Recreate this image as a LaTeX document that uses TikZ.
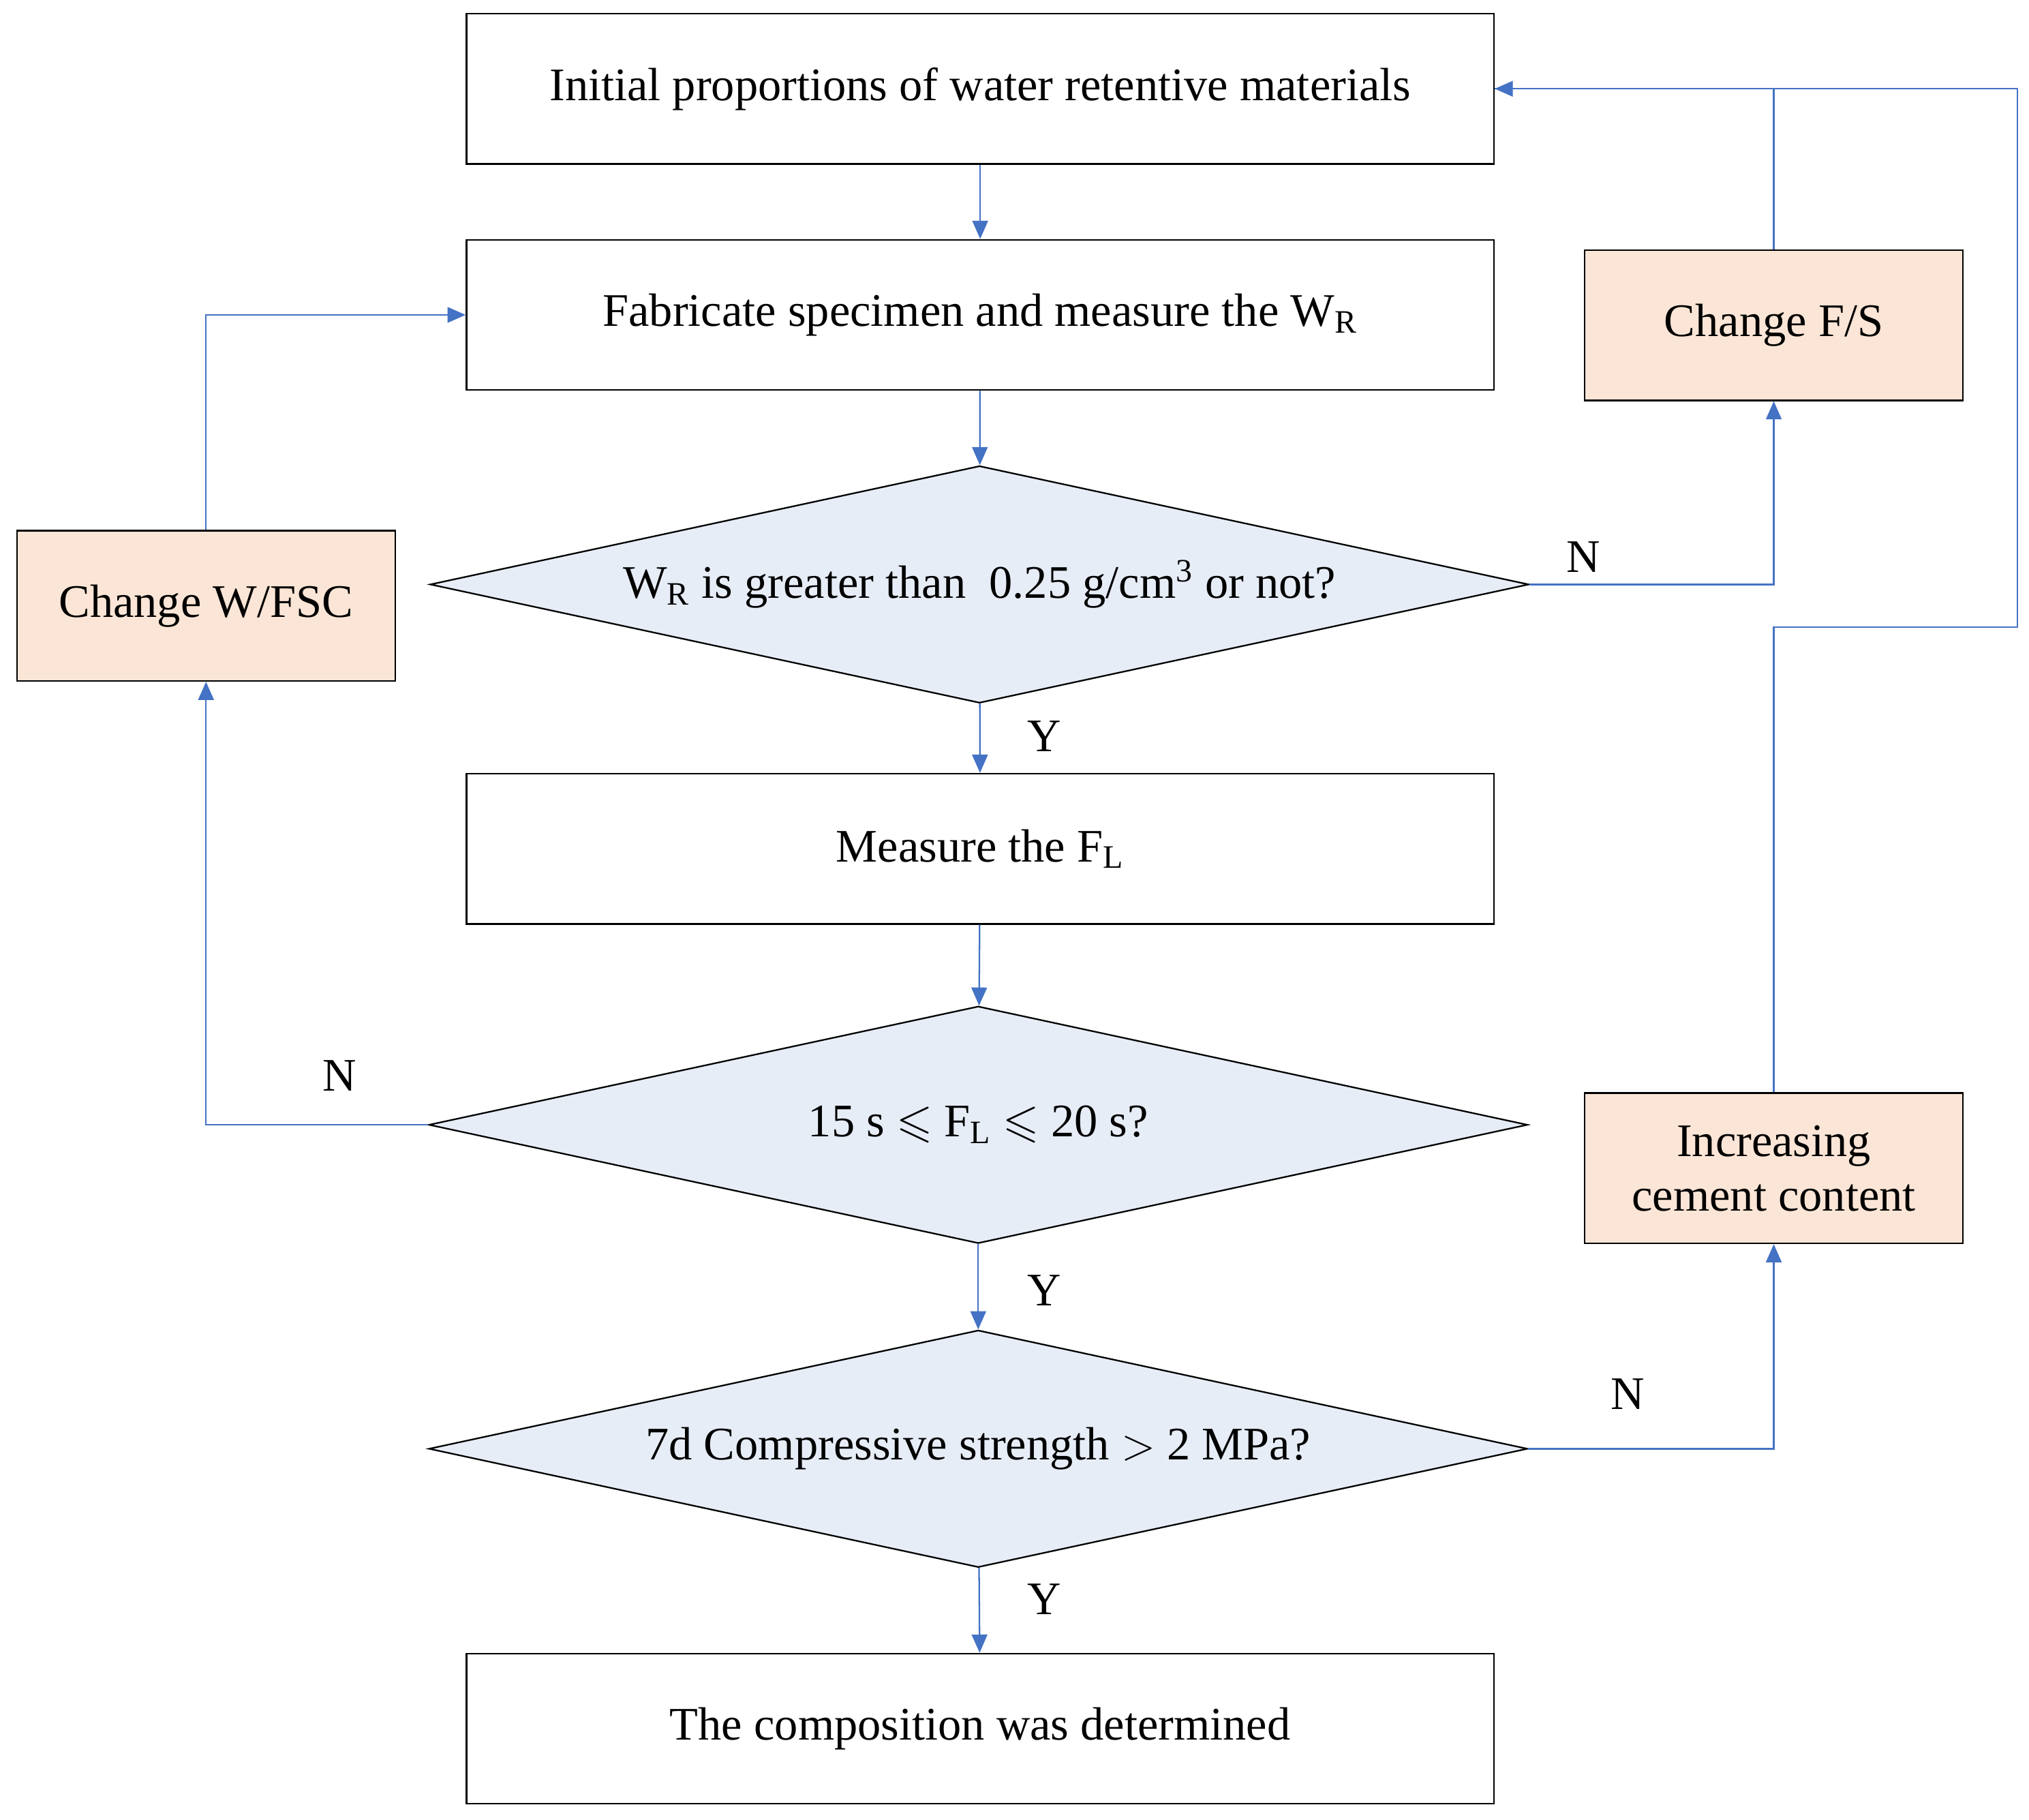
\documentclass[tikz,border=0pt]{standalone}
\usepackage{fontspec}
\usepackage{amssymb}
\setmainfont{Liberation Serif}
\usetikzlibrary{shapes.geometric,arrows.meta}
\definecolor{ln}{HTML}{4472C4}
\definecolor{dfill}{HTML}{E7EDF7}
\definecolor{pfill}{HTML}{FBE5D6}
\begin{document}
\begin{tikzpicture}[x=0.5pt,y=-0.5pt,
  every node/.style={font=\fontsize{18}{21}\selectfont},
  box/.style={draw=black,line width=0.6pt,minimum width=396.5pt,minimum height=58pt,inner sep=0pt},
  side/.style={draw=black,line width=0.6pt,fill=pfill,minimum width=146pt,minimum height=58pt,inner sep=0pt,align=center},
  dia/.style={draw=black,line width=0.6pt,fill=dfill,shape=diamond,minimum width=424pt,minimum height=91.5pt,inner sep=0pt},
  con/.style={draw=ln,line width=0.6pt},
  arr/.style={con,-{Triangle[length=7pt,width=6pt]}},
  lab/.style={font=\fontsize{18}{21}\selectfont}]
\useasboundingbox (0,0) rectangle (1566,1404);
\node[box] (b1) at (756.5,68.5) {Initial proportions of water retentive materials};
\node[box] (b2) at (756.5,243) {Fabricate specimen and measure the W\textsubscript{R}};
\node[dia] (d1) at (756,451) {};
\node at (d1.center) {W\textsubscript{R} is greater than\ \ 0.25 g/cm\textsuperscript{3} or not?};
\node[box] (b3) at (756.5,655) {Measure the F\textsubscript{L}};
\node[dia] (d2) at (755,868) {};
\node at (d2.center) {15 s $\leqslant$ F\textsubscript{L} $\leqslant$ 20 s?};
\node[dia] (d3) at (755,1118) {};
\node at (d3.center) {7d Compressive strength $>$ 2 MPa?};
\node[box] (b4) at (756.5,1334) {The composition was determined};
\node[side] (w) at (159,467.5) {Change W/FSC};
\node[side] (fs) at (1369,251) {Change F/S};
\node[side] (ic) at (1369,901.5) {Increasing\\cement content};
\coordinate (c1) at (1557,484);
\draw[arr] (b1) -- (b2);
\draw[arr] (b2) -- (d1);
\draw[arr] (d1) -- (b3);
\draw[arr] (b3) -- (d2);
\draw[arr] (d2) -- (d3);
\draw[arr] (d3) -- (b4);
\node[lab] at (806,568) {Y};
\node[lab] at (806,996) {Y};
\node[lab] at (806,1234) {Y};
\draw[arr] (d1.east) -| (fs.south);
\node[lab] at (1222,430) {N};
\draw[arr] (fs.north) |- (b1.east);
\draw[arr] (d2.west) -| (w.south);
\node[lab] at (262,830) {N};
\draw[arr] (w.north) |- (b2.west);
\draw[arr] (d3.east) -| (ic.south);
\node[lab] at (1256,1076) {N};
\draw[con] (ic.north) |- (c1) |- (b1.east);
\end{tikzpicture}
\end{document}
